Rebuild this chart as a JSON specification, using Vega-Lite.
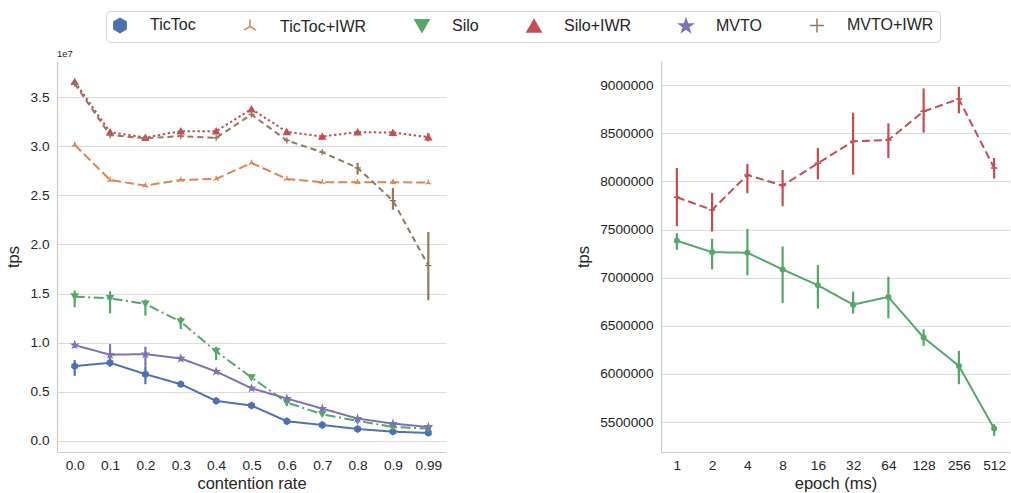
{
 "$schema": "https://vega.github.io/schema/vega-lite/v6.json",
 "padding": {"left": 5, "top": 10, "right": 0, "bottom": 0},
 "background": "white",
 "spacing": 215,
 "bounds": "flush",
 "resolve": {"scale": {"strokeDash": "independent"}},
 "config": {
  "font": "Liberation Sans",
  "view": {"stroke": null},
  "axis": {"labelFont": "Liberation Sans", "labelFontSize": 13.7, "labelColor": "#262626", "titleFont": "Liberation Sans", "titleFontSize": 16.5, "titleFontWeight": "normal", "titleColor": "#262626", "domainColor": "#cccccc", "domainWidth": 1.2, "ticks": false, "gridColor": "#dcdcdc", "gridWidth": 1},
  "axisX": {"grid": false, "labelAngle": 0, "labelPadding": 6, "titlePadding": 4},
  "axisY": {"grid": true, "labelPadding": 8, "titlePadding": 8},
  "legend": {"labelFont": "Liberation Sans", "labelFontSize": 16, "labelColor": "#262626"}
 },
 "datasets": {
  "left": [
   {"cr": "0.0", "series": "TicToc", "tps": 7620000, "lo": 6630000, "hi": 8230000},
   {"cr": "0.1", "series": "TicToc", "tps": 7960000, "lo": 7620000, "hi": 8270000},
   {"cr": "0.2", "series": "TicToc", "tps": 6800000, "lo": 5780000, "hi": 7550000},
   {"cr": "0.3", "series": "TicToc", "tps": 5780000, "lo": 5580000, "hi": 6050000},
   {"cr": "0.4", "series": "TicToc", "tps": 4080000, "lo": 3740000, "hi": 4420000},
   {"cr": "0.5", "series": "TicToc", "tps": 3610000, "lo": 3510000, "hi": 3710000},
   {"cr": "0.6", "series": "TicToc", "tps": 2010000, "lo": 1950000, "hi": 2080000},
   {"cr": "0.7", "series": "TicToc", "tps": 1630000, "lo": 1580000, "hi": 1680000},
   {"cr": "0.8", "series": "TicToc", "tps": 1220000, "lo": 1180000, "hi": 1260000},
   {"cr": "0.9", "series": "TicToc", "tps": 950000, "lo": 910000, "hi": 990000},
   {"cr": "0.99", "series": "TicToc", "tps": 820000, "lo": 780000, "hi": 860000},
   {"cr": "0.0", "series": "TicToc+IWR", "tps": 30140000, "lo": 29950000, "hi": 30330000},
   {"cr": "0.1", "series": "TicToc+IWR", "tps": 26560000, "lo": 26410000, "hi": 26710000},
   {"cr": "0.2", "series": "TicToc+IWR", "tps": 25990000, "lo": 25870000, "hi": 26110000},
   {"cr": "0.3", "series": "TicToc+IWR", "tps": 26560000, "lo": 26440000, "hi": 26680000},
   {"cr": "0.4", "series": "TicToc+IWR", "tps": 26670000, "lo": 26570000, "hi": 26770000},
   {"cr": "0.5", "series": "TicToc+IWR", "tps": 28300000, "lo": 28180000, "hi": 28420000},
   {"cr": "0.6", "series": "TicToc+IWR", "tps": 26670000, "lo": 26570000, "hi": 26770000},
   {"cr": "0.7", "series": "TicToc+IWR", "tps": 26330000, "lo": 26250000, "hi": 26410000},
   {"cr": "0.8", "series": "TicToc+IWR", "tps": 26330000, "lo": 26180000, "hi": 26480000},
   {"cr": "0.9", "series": "TicToc+IWR", "tps": 26330000, "lo": 26130000, "hi": 26530000},
   {"cr": "0.99", "series": "TicToc+IWR", "tps": 26290000, "lo": 26190000, "hi": 26390000},
   {"cr": "0.0", "series": "Silo", "tps": 14690000, "lo": 13610000, "hi": 15310000},
   {"cr": "0.1", "series": "Silo", "tps": 14520000, "lo": 12990000, "hi": 15240000},
   {"cr": "0.2", "series": "Silo", "tps": 13950000, "lo": 12760000, "hi": 14390000},
   {"cr": "0.3", "series": "Silo", "tps": 12140000, "lo": 11390000, "hi": 12650000},
   {"cr": "0.4", "series": "Silo", "tps": 9120000, "lo": 8230000, "hi": 9590000},
   {"cr": "0.5", "series": "Silo", "tps": 6460000, "lo": 6250000, "hi": 6660000},
   {"cr": "0.6", "series": "Silo", "tps": 3910000, "lo": 3570000, "hi": 4250000},
   {"cr": "0.7", "series": "Silo", "tps": 2720000, "lo": 2550000, "hi": 2890000},
   {"cr": "0.8", "series": "Silo", "tps": 2040000, "lo": 1900000, "hi": 2180000},
   {"cr": "0.9", "series": "Silo", "tps": 1430000, "lo": 1330000, "hi": 1530000},
   {"cr": "0.99", "series": "Silo", "tps": 1260000, "lo": 1190000, "hi": 1330000},
   {"cr": "0.0", "series": "Silo+IWR", "tps": 36560000, "lo": 36410000, "hi": 36710000},
   {"cr": "0.1", "series": "Silo+IWR", "tps": 31430000, "lo": 31280000, "hi": 31580000},
   {"cr": "0.2", "series": "Silo+IWR", "tps": 30880000, "lo": 30780000, "hi": 30980000},
   {"cr": "0.3", "series": "Silo+IWR", "tps": 31530000, "lo": 31380000, "hi": 31680000},
   {"cr": "0.4", "series": "Silo+IWR", "tps": 31530000, "lo": 31410000, "hi": 31650000},
   {"cr": "0.5", "series": "Silo+IWR", "tps": 33780000, "lo": 33630000, "hi": 33930000},
   {"cr": "0.6", "series": "Silo+IWR", "tps": 31460000, "lo": 31360000, "hi": 31560000},
   {"cr": "0.7", "series": "Silo+IWR", "tps": 30990000, "lo": 30890000, "hi": 31090000},
   {"cr": "0.8", "series": "Silo+IWR", "tps": 31430000, "lo": 31330000, "hi": 31530000},
   {"cr": "0.9", "series": "Silo+IWR", "tps": 31390000, "lo": 31270000, "hi": 31510000},
   {"cr": "0.99", "series": "Silo+IWR", "tps": 30920000, "lo": 30500000, "hi": 31350000},
   {"cr": "0.0", "series": "MVTO", "tps": 9760000, "lo": 9470000, "hi": 10030000},
   {"cr": "0.1", "series": "MVTO", "tps": 8780000, "lo": 7550000, "hi": 9860000},
   {"cr": "0.2", "series": "MVTO", "tps": 8840000, "lo": 7550000, "hi": 9590000},
   {"cr": "0.3", "series": "MVTO", "tps": 8400000, "lo": 8130000, "hi": 8640000},
   {"cr": "0.4", "series": "MVTO", "tps": 7070000, "lo": 6970000, "hi": 7170000},
   {"cr": "0.5", "series": "MVTO", "tps": 5370000, "lo": 5270000, "hi": 5470000},
   {"cr": "0.6", "series": "MVTO", "tps": 4320000, "lo": 4240000, "hi": 4400000},
   {"cr": "0.7", "series": "MVTO", "tps": 3300000, "lo": 3220000, "hi": 3380000},
   {"cr": "0.8", "series": "MVTO", "tps": 2280000, "lo": 2200000, "hi": 2360000},
   {"cr": "0.9", "series": "MVTO", "tps": 1770000, "lo": 1690000, "hi": 1850000},
   {"cr": "0.99", "series": "MVTO", "tps": 1430000, "lo": 1370000, "hi": 1490000},
   {"cr": "0.0", "series": "MVTO+IWR", "tps": 36360000, "lo": 36210000, "hi": 36510000},
   {"cr": "0.1", "series": "MVTO+IWR", "tps": 31120000, "lo": 31020000, "hi": 31220000},
   {"cr": "0.2", "series": "MVTO+IWR", "tps": 30820000, "lo": 30740000, "hi": 30900000},
   {"cr": "0.3", "series": "MVTO+IWR", "tps": 31020000, "lo": 30940000, "hi": 31100000},
   {"cr": "0.4", "series": "MVTO+IWR", "tps": 30850000, "lo": 30770000, "hi": 30930000},
   {"cr": "0.5", "series": "MVTO+IWR", "tps": 33230000, "lo": 33130000, "hi": 33330000},
   {"cr": "0.6", "series": "MVTO+IWR", "tps": 30580000, "lo": 30480000, "hi": 30680000},
   {"cr": "0.7", "series": "MVTO+IWR", "tps": 29390000, "lo": 29290000, "hi": 29490000},
   {"cr": "0.8", "series": "MVTO+IWR", "tps": 27790000, "lo": 27110000, "hi": 28300000},
   {"cr": "0.9", "series": "MVTO+IWR", "tps": 24460000, "lo": 23540000, "hi": 25750000},
   {"cr": "0.99", "series": "MVTO+IWR", "tps": 17840000, "lo": 14320000, "hi": 21260000}
  ],
  "right": [
   {"ep": "1", "series": "Silo+IWR", "tps": 7835000, "lo": 7535000, "hi": 8139000},
   {"ep": "2", "series": "Silo+IWR", "tps": 7704000, "lo": 7479000, "hi": 7880000},
   {"ep": "4", "series": "Silo+IWR", "tps": 8067000, "lo": 7877000, "hi": 8181000},
   {"ep": "8", "series": "Silo+IWR", "tps": 7956000, "lo": 7742000, "hi": 8119000},
   {"ep": "16", "series": "Silo+IWR", "tps": 8188000, "lo": 8022000, "hi": 8347000},
   {"ep": "32", "series": "Silo+IWR", "tps": 8416000, "lo": 8070000, "hi": 8713000},
   {"ep": "64", "series": "Silo+IWR", "tps": 8430000, "lo": 8243000, "hi": 8603000},
   {"ep": "128", "series": "Silo+IWR", "tps": 8727000, "lo": 8506000, "hi": 8965000},
   {"ep": "256", "series": "Silo+IWR", "tps": 8855000, "lo": 8706000, "hi": 8983000},
   {"ep": "512", "series": "Silo+IWR", "tps": 8139000, "lo": 8029000, "hi": 8243000},
   {"ep": "1", "series": "Silo", "tps": 7383000, "lo": 7289000, "hi": 7462000},
   {"ep": "2", "series": "Silo", "tps": 7265000, "lo": 7086000, "hi": 7403000},
   {"ep": "4", "series": "Silo", "tps": 7259000, "lo": 7024000, "hi": 7507000},
   {"ep": "8", "series": "Silo", "tps": 7086000, "lo": 6737000, "hi": 7324000},
   {"ep": "16", "series": "Silo", "tps": 6921000, "lo": 6679000, "hi": 7131000},
   {"ep": "32", "series": "Silo", "tps": 6720000, "lo": 6627000, "hi": 6855000},
   {"ep": "64", "series": "Silo", "tps": 6800000, "lo": 6578000, "hi": 7010000},
   {"ep": "128", "series": "Silo", "tps": 6378000, "lo": 6292000, "hi": 6464000},
   {"ep": "256", "series": "Silo", "tps": 6084000, "lo": 5894000, "hi": 6240000},
   {"ep": "512", "series": "Silo", "tps": 5434000, "lo": 5358000, "hi": 5479000}
  ]
 },
 "hconcat": [
  {
   "width": 389,
   "height": 391,
   "title": {"text": "1e7", "anchor": "start", "frame": "group", "fontSize": 9.5, "fontWeight": "normal", "font": "Liberation Sans", "color": "#262626", "offset": 3},
   "data": {"name": "left"},
   "layer": [
    {
     "mark": {"type": "rule", "strokeWidth": 2.2},
     "encoding": {
      "x": {"field": "cr", "type": "ordinal", "sort": ["0.0","0.1","0.2","0.3","0.4","0.5","0.6","0.7","0.8","0.9","0.99"], "scale": {"type": "point", "padding": 0.5}, "axis": {"title": "contention rate"}},
      "y": {"field": "lo", "type": "quantitative", "scale": {"domain": [-1120000, 38670000], "nice": false, "zero": false}, "axis": {"title": "tps", "values": [0,5000000,10000000,15000000,20000000,25000000,30000000,35000000], "labelExpr": "format(datum.value/1e7,'.1f')"}},
      "y2": {"field": "hi"},
      "color": {"field": "series", "type": "nominal", "scale": {"domain": ["MVTO+IWR","MVTO","Silo+IWR","Silo","TicToc+IWR","TicToc"], "range": ["#937860","#8172b3","#c44e52","#55a868","#dd8452","#4c72b0"]}, "legend": null}
     }
    },
    {
     "mark": {"type": "line", "strokeWidth": 2},
     "encoding": {
      "x": {"field": "cr", "type": "ordinal", "sort": ["0.0","0.1","0.2","0.3","0.4","0.5","0.6","0.7","0.8","0.9","0.99"], "scale": {"type": "point", "padding": 0.5}, "axis": {"title": "contention rate"}},
      "y": {"field": "tps", "type": "quantitative", "scale": {"domain": [-1120000, 38670000], "nice": false, "zero": false}, "axis": {"title": "tps", "values": [0,5000000,10000000,15000000,20000000,25000000,30000000,35000000], "labelExpr": "format(datum.value/1e7,'.1f')"}},
      "color": {"field": "series", "type": "nominal", "scale": {"domain": ["MVTO+IWR","MVTO","Silo+IWR","Silo","TicToc+IWR","TicToc"], "range": ["#937860","#8172b3","#c44e52","#55a868","#dd8452","#4c72b0"]}, "legend": null},
      "strokeDash": {"field": "series", "type": "nominal", "scale": {"domain": ["TicToc","TicToc+IWR","Silo","Silo+IWR","MVTO","MVTO+IWR"], "range": [[1,0],[9,4],[10,3.5,2,3.5],[2.4,2.6],[1,0],[6,4]]}, "legend": null}
     }
    },
    {
     "mark": {"type": "point", "size": 40, "strokeWidth": 1.3, "opacity": 1, "filled": true},
     "encoding": {
      "x": {"field": "cr", "type": "ordinal", "sort": ["0.0","0.1","0.2","0.3","0.4","0.5","0.6","0.7","0.8","0.9","0.99"], "scale": {"type": "point", "padding": 0.5}, "axis": {"title": "contention rate"}},
      "y": {"field": "tps", "type": "quantitative", "scale": {"domain": [-1120000, 38670000], "nice": false, "zero": false}, "axis": {"title": "tps", "values": [0,5000000,10000000,15000000,20000000,25000000,30000000,35000000], "labelExpr": "format(datum.value/1e7,'.1f')"}},
      "shape": {"field": "series", "type": "nominal", "scale": {"domain": ["TicToc","TicToc+IWR","Silo","Silo+IWR","MVTO","MVTO+IWR"], "range": ["M0,-1L0.866,-0.5L0.866,0.5L0,1L-0.866,0.5L-0.866,-0.5Z", "M0,0L0,-1M0,0L-0.866,0.5M0,0L0.866,0.5", "triangle-down", "triangle-up", "M0,-1L0.225,-0.309L0.951,-0.309L0.363,0.118L0.588,0.809L0,0.382L-0.588,0.809L-0.363,0.118L-0.951,-0.309L-0.225,-0.309Z", "M-1,0L1,0M0,-1L0,1"]}, "legend": {"orient": "none", "legendX": 49, "legendY": -50, "direction": "horizontal", "title": null, "symbolSize": 200, "symbolStrokeWidth": 1.5, "labelOffset": 22, "columnPadding": 44, "padding": 6, "strokeColor": "#d4d4d4", "cornerRadius": 4, "fillColor": "white"}},
      "fill": {"field": "series", "type": "nominal", "scale": {"domain": ["TicToc","TicToc+IWR","Silo","Silo+IWR","MVTO","MVTO+IWR"], "range": ["#4c72b0","transparent","#55a868","#c44e52","#8172b3","transparent"]}, "legend": {"orient": "none", "legendX": 49, "legendY": -50, "direction": "horizontal", "title": null, "symbolSize": 200, "symbolStrokeWidth": 1.5, "labelOffset": 22, "columnPadding": 44, "padding": 6, "strokeColor": "#d4d4d4", "cornerRadius": 4, "fillColor": "white"}},
      "stroke": {"field": "series", "type": "nominal", "scale": {"domain": ["TicToc","TicToc+IWR","Silo","Silo+IWR","MVTO","MVTO+IWR"], "range": ["#4c72b0","#dd8452","#55a868","#c44e52","#8172b3","#937860"]}, "legend": {"orient": "none", "legendX": 49, "legendY": -50, "direction": "horizontal", "title": null, "symbolSize": 200, "symbolStrokeWidth": 1.5, "labelOffset": 22, "columnPadding": 44, "padding": 6, "strokeColor": "#d4d4d4", "cornerRadius": 4, "fillColor": "white"}}
     }
    }
   ]
  },
  {
   "width": 349,
   "height": 391,
   "data": {"name": "right"},
   "layer": [
    {
     "mark": {"type": "rule", "strokeWidth": 2.2},
     "encoding": {
      "x": {"field": "ep", "type": "ordinal", "sort": ["1","2","4","8","16","32","64","128","256","512"], "scale": {"type": "point", "padding": 0.45}, "axis": {"title": "epoch (ms)"}},
      "y": {"field": "lo", "type": "quantitative", "scale": {"domain": [5190000, 9250000], "nice": false, "zero": false}, "axis": {"title": "tps", "values": [5500000,6000000,6500000,7000000,7500000,8000000,8500000,9000000], "format": "d"}},
      "y2": {"field": "hi"},
      "color": {"field": "series", "type": "nominal", "scale": {"domain": ["MVTO+IWR","MVTO","Silo+IWR","Silo","TicToc+IWR","TicToc"], "range": ["#937860","#8172b3","#c44e52","#55a868","#dd8452","#4c72b0"]}, "legend": null}
     }
    },
    {
     "mark": {"type": "line", "strokeWidth": 2},
     "encoding": {
      "x": {"field": "ep", "type": "ordinal", "sort": ["1","2","4","8","16","32","64","128","256","512"], "scale": {"type": "point", "padding": 0.45}, "axis": {"title": "epoch (ms)"}},
      "y": {"field": "tps", "type": "quantitative", "scale": {"domain": [5190000, 9250000], "nice": false, "zero": false}, "axis": {"title": "tps", "values": [5500000,6000000,6500000,7000000,7500000,8000000,8500000,9000000], "format": "d"}},
      "color": {"field": "series", "type": "nominal", "scale": {"domain": ["MVTO+IWR","MVTO","Silo+IWR","Silo","TicToc+IWR","TicToc"], "range": ["#937860","#8172b3","#c44e52","#55a868","#dd8452","#4c72b0"]}, "legend": null},
      "strokeDash": {"field": "series", "type": "nominal", "scale": {"domain": ["Silo","Silo+IWR"], "range": [[1,0],[8,4]]}, "legend": null}
     }
    },
    {
     "transform": [{"filter": "datum.series === 'Silo'"}],
     "mark": {"type": "point", "shape": "circle", "size": 36, "filled": true, "opacity": 1},
     "encoding": {
      "x": {"field": "ep", "type": "ordinal", "sort": ["1","2","4","8","16","32","64","128","256","512"], "scale": {"type": "point", "padding": 0.45}, "axis": {"title": "epoch (ms)"}},
      "y": {"field": "tps", "type": "quantitative", "scale": {"domain": [5190000, 9250000], "nice": false, "zero": false}, "axis": {"title": "tps", "values": [5500000,6000000,6500000,7000000,7500000,8000000,8500000,9000000], "format": "d"}},
      "color": {"field": "series", "type": "nominal", "scale": {"domain": ["MVTO+IWR","MVTO","Silo+IWR","Silo","TicToc+IWR","TicToc"], "range": ["#937860","#8172b3","#c44e52","#55a868","#dd8452","#4c72b0"]}, "legend": null}
     }
    },
    {
     "transform": [{"filter": "datum.series === 'Silo+IWR'"}],
     "mark": {"type": "point", "shape": "M-1,0L1,0M0,-1L0,1", "size": 40, "filled": false, "strokeWidth": 1.5, "opacity": 1},
     "encoding": {
      "x": {"field": "ep", "type": "ordinal", "sort": ["1","2","4","8","16","32","64","128","256","512"], "scale": {"type": "point", "padding": 0.45}, "axis": {"title": "epoch (ms)"}},
      "y": {"field": "tps", "type": "quantitative", "scale": {"domain": [5190000, 9250000], "nice": false, "zero": false}, "axis": {"title": "tps", "values": [5500000,6000000,6500000,7000000,7500000,8000000,8500000,9000000], "format": "d"}},
      "color": {"field": "series", "type": "nominal", "scale": {"domain": ["MVTO+IWR","MVTO","Silo+IWR","Silo","TicToc+IWR","TicToc"], "range": ["#937860","#8172b3","#c44e52","#55a868","#dd8452","#4c72b0"]}, "legend": null}
     }
    }
   ]
  }
 ]
}
